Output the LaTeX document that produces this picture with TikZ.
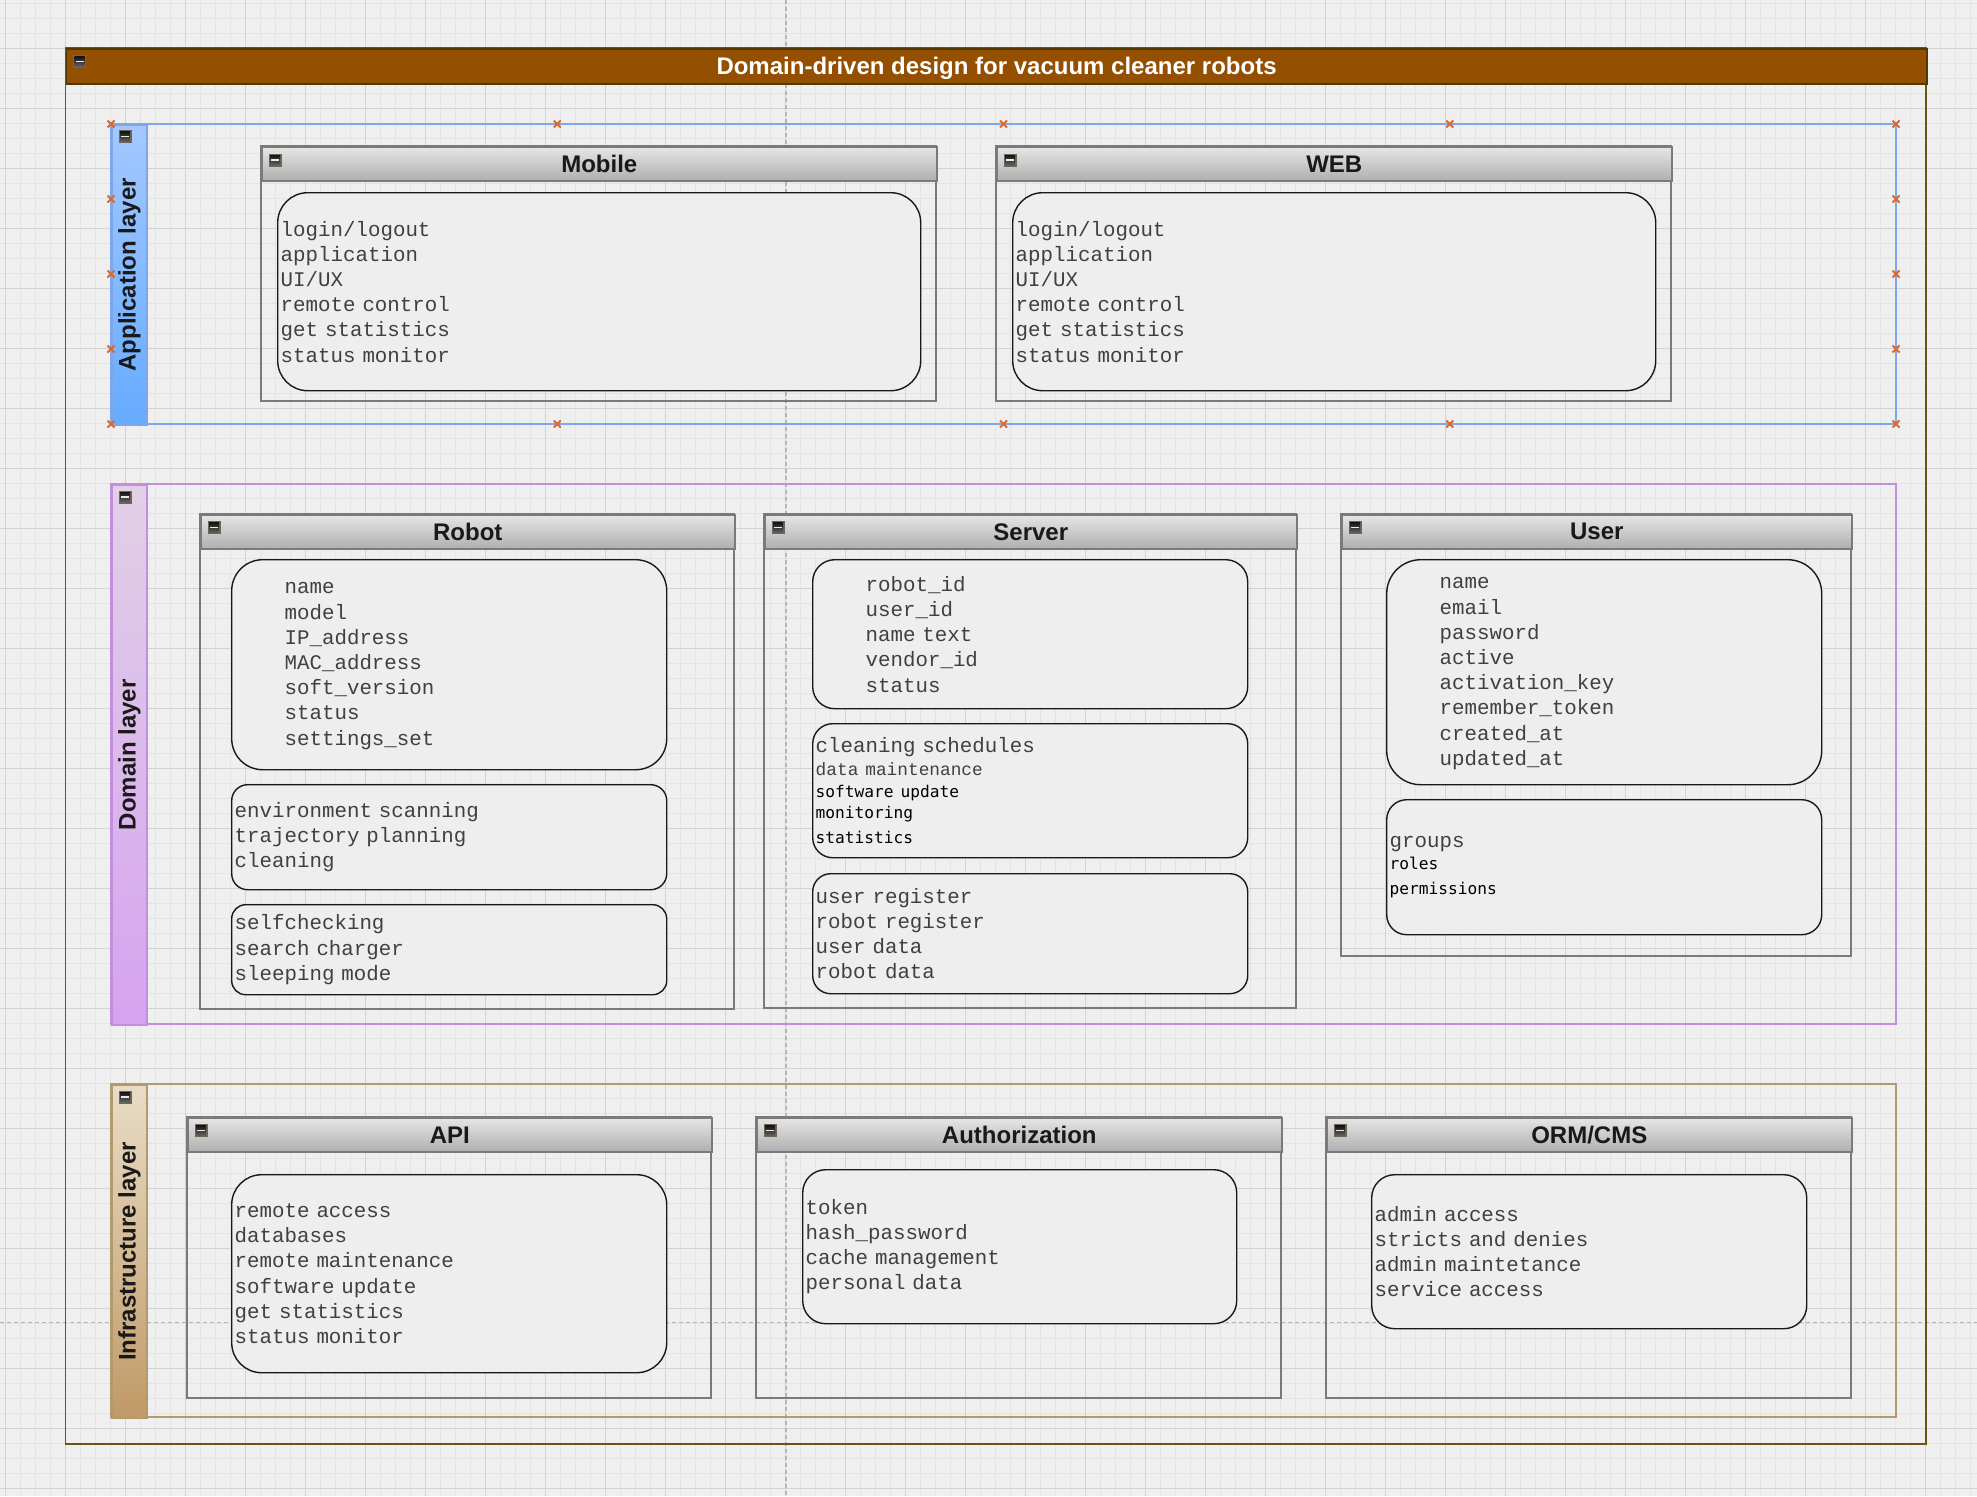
\documentclass[tikz,border=0pt]{standalone}
\usepackage{fontspec}
\setmainfont{Liberation Sans}
\setmonofont{Liberation Mono}
\newfontfamily\smonofont{DejaVu Sans Mono}

\definecolor{bgcol}{HTML}{EFEFEF}
\definecolor{gridminor}{HTML}{E4E4E4}
\definecolor{gridmajor}{HTML}{D3D3D3}
\definecolor{guidecol}{HTML}{B5B5B5}
\definecolor{titlefill}{HTML}{954F00}
\definecolor{titleedge}{HTML}{4F3A05}
\definecolor{frameedge}{HTML}{6A5412}
\definecolor{appedge}{HTML}{7EA6EC}
\definecolor{apptop}{HTML}{A3C8FF}
\definecolor{appbot}{HTML}{66ABFF}
\definecolor{domedge}{HTML}{C28FDC}
\definecolor{domtop}{HTML}{E2D0E6}
\definecolor{dombot}{HTML}{D5A3F0}
\definecolor{infedge}{HTML}{B39A6E}
\definecolor{inftop}{HTML}{E9DCC6}
\definecolor{infbot}{HTML}{C09A66}
\definecolor{boxedge}{HTML}{7A7A7A}
\definecolor{headtop}{HTML}{E6E6E6}
\definecolor{headbot}{HTML}{AFAFAF}
\definecolor{innerfill}{HTML}{EEEEEE}
\definecolor{markcol}{HTML}{D9692E}
\definecolor{btnedge}{HTML}{6F6656}

\newcommand{\cour}{\fontsize{20.8}{25.2}\selectfont\ttfamily}
\newcommand{\courS}{\fontsize{17.8}{23}\selectfont\ttfamily}
\newcommand{\smono}{\fontsize{16.2}{21.5}\selectfont\smonofont\color{black}}
\newcommand{\ind}{\phantom{0000}}

% small collapse button of the containers
\newcommand{\minusbtn}[2]{%
  \fill[btnedge] ({#1-6.5},{#2-6.5}) rectangle ({#1+6.5},{#2+6.5});
  \shade[top color=black!92, bottom color=black!62] ({#1-5},{#2-5}) rectangle ({#1+5},{#2+5});
  \fill[white!92!black] ({#1-4},{#2-0.8}) rectangle ({#1+4},{#2+0.8});}
% selection handle
\newcommand{\hmark}[2]{%
  \draw[selmark] ({#1-3.5},{#2-3.5}) -- ({#1+3.5},{#2+3.5}) ({#1-3.5},{#2+3.5}) -- ({#1+3.5},{#2-3.5});}

\tikzset{
  gridthin/.style={draw=gridminor, line width=1pt},
  gridthick/.style={draw=gridmajor, line width=1.2pt},
  guideline/.style={draw=guidecol, line width=1.2pt, dash pattern=on 4pt off 3pt},
  mainframe/.style={draw=frameedge, line width=1.8pt},
  titlebar/.style={draw=titleedge, line width=1.6pt, fill=titlefill, anchor=north west, inner sep=0pt,
    text=white, text height=17.2pt, text depth=0pt, font=\fontsize{24}{28}\selectfont\bfseries},
  sidebar/.style={line width=1.6pt, minimum width=35pt, anchor=north west, inner sep=0pt},
  layerlabel/.style={rotate=90, font=\fontsize{24}{28}\selectfont\bfseries, text=black!90},
  boxframe/.style={draw=boxedge, line width=1.5pt},
  header/.style={draw=boxedge, line width=1.5pt, top color=headtop, bottom color=headbot,
    minimum height=34pt, inner sep=0pt, anchor=north west,
    font=\fontsize{24}{28}\selectfont\bfseries, text=black!90},
  itembox/.style={draw=black!90, line width=1.4pt, fill=innerfill, inner xsep=3pt, inner ysep=0pt,
    anchor=north west, align=left, font=\cour, text=black!75},
  selmark/.style={draw=markcol, line width=2pt},
}

\begin{document}
\begin{tikzpicture}[x=1pt,y=-1pt]
\useasboundingbox (0,0) rectangle (1977,1496);
\fill[bgcol] (0,0) rectangle (1977,1496);
%background grid
\foreach \k in {0,...,131} \draw[gridthin] ({5.3+15*\k},0) -- ({5.3+15*\k},1496);
\foreach \k in {0,...,99} \draw[gridthin] (0,{3.3+15*\k}) -- (1977,{3.3+15*\k});
\foreach \k in {0,...,32} \draw[gridthick] ({5.3+60*\k},0) -- ({5.3+60*\k},1496);
\foreach \k in {0,...,24} \draw[gridthick] (0,{48.3+60*\k}) -- (1977,{48.3+60*\k});
\draw[guideline] (786,0) -- (786,1496);
\draw[guideline] (0,1322.5) -- (1977,1322.5);

% main container
\draw[mainframe] (65.5,48) rectangle (1926,1444);
\node[titlebar, minimum width=1860.5pt, minimum height=35pt] (titleBar) at (65.5,48) {Domain-driven design for vacuum cleaner robots};

% layers
\draw[draw=appedge, line width=1.6pt] (111,124) rectangle (1896,424);
\node[sidebar, draw=appedge, top color=apptop, bottom color=appbot, minimum height=300pt] (appSide) at (111,124) {};
\node[layerlabel] (appLabel) at (appSide.center) {Application layer};

\draw[draw=domedge, line width=1.6pt] (111,484) rectangle (1896,1024);
\node[sidebar, draw=domedge, top color=domtop, bottom color=dombot, minimum height=540pt] (domSide) at (111,484) {};
\node[layerlabel] (domLabel) at (domSide.center) {Domain layer};

\draw[draw=infedge, line width=1.6pt] (111,1084) rectangle (1896,1417);
\node[sidebar, draw=infedge, top color=inftop, bottom color=infbot, minimum height=333pt] (infSide) at (111,1084) {};
\node[layerlabel] (infLabel) at (infSide.center) {Infrastructure layer};

% application layer
\draw[boxframe] (261,146) rectangle (936,401);
\node[header, minimum width=675pt] (mobileHead) at (261,146) {Mobile};
\node[itembox, minimum width=643pt, minimum height=198pt, text width=637pt, rounded corners=30pt] (mobileBody) at (277,192)
  {login/logout\\ application\\ UI/UX\\ remote control\\ get statistics\\ status monitor};

\draw[boxframe] (996,146) rectangle (1671,401);
\node[header, minimum width=675pt] (webHead) at (996,146) {WEB};
\node[itembox, minimum width=643pt, minimum height=198pt, text width=637pt, rounded corners=30pt] (webBody) at (1012,192)
  {login/logout\\ application\\ UI/UX\\ remote control\\ get statistics\\ status monitor};

% domain layer
\draw[boxframe] (200,514) rectangle (734,1009);
\node[header, minimum width=534pt] (robotHead) at (200,514) {Robot};
\node[itembox, minimum width=435pt, minimum height=210pt, text width=429pt, rounded corners=31pt] (robotAttr) at (231,559)
  {\ind name\\ \ind model\\ \ind IP\_address\\ \ind MAC\_address\\ \ind soft\_version\\ \ind status\\ \ind settings\_set};
\node[itembox, minimum width=435pt, minimum height=105pt, text width=429pt, rounded corners=16pt] (robotMove) at (231,784)
  {environment scanning\\ trajectory planning\\ cleaning};
\node[itembox, minimum width=435pt, minimum height=90pt, text width=429pt, rounded corners=14pt] (robotSelf) at (231,904)
  {selfchecking\\ search charger\\ sleeping mode};

\draw[boxframe] (764,514) rectangle (1296,1008);
\node[header, minimum width=532pt] (serverHead) at (764,514) {Server};
\node[itembox, minimum width=435pt, minimum height=149pt, text width=429pt, rounded corners=22pt] (serverAttr) at (812,559)
  {\ind robot\_id\\ \ind user\_id\\ \ind name text\\ \ind vendor\_id\\ \ind status};
\node[itembox, minimum width=435pt, minimum height=134pt, text width=429pt, rounded corners=20pt] (serverTasks) at (812,723)
  {cleaning schedules\\ \courS data maintenance\\ \smono software update\\ monitoring\\ statistics};
\node[itembox, minimum width=435pt, minimum height=120pt, text width=429pt, rounded corners=18pt] (serverReg) at (812,873)
  {user register\\ robot register\\ user data\\ robot data};

\draw[boxframe] (1341,514) rectangle (1851,956);
\node[header, minimum width=510pt] (userHead) at (1341,514) {User};
\node[itembox, minimum width=435pt, minimum height=225pt, text width=429pt, rounded corners=34pt] (userAttr) at (1386,559)
  {\ind name\\ \ind email\\ \ind password\\ \ind active\\ \ind activation\_key\\ \ind remember\_token\\ \ind created\_at\\ \ind updated\_at};
\node[itembox, minimum width=435pt, minimum height=135pt, text width=429pt, rounded corners=20pt] (userRights) at (1386,799)
  {groups\\ \smono roles\\ permissions};

% infrastructure layer
\draw[boxframe] (187,1117) rectangle (711,1398);
\node[header, minimum width=524pt] (apiHead) at (187,1117) {API};
\node[itembox, minimum width=435pt, minimum height=198pt, text width=429pt, rounded corners=30pt] (apiBody) at (231,1174)
  {remote access\\ databases\\ remote maintenance\\ software update\\ get statistics\\ status monitor};

\draw[boxframe] (756,1117) rectangle (1281,1398);
\node[header, minimum width=525pt] (authHead) at (756,1117) {Authorization};
\node[itembox, minimum width=434pt, minimum height=154pt, text width=428pt, rounded corners=23pt] (authBody) at (802,1169)
  {token\\ hash\_password\\ cache management\\ personal data};

\draw[boxframe] (1326,1117) rectangle (1851,1398);
\node[header, minimum width=525pt] (ormHead) at (1326,1117) {ORM/CMS};
\node[itembox, minimum width=435pt, minimum height=154pt, text width=429pt, rounded corners=23pt] (ormBody) at (1371,1174)
  {admin access\\ stricts and denies\\ admin maintetance\\ service access};

% selection handles of the application layer
\foreach \mx in {111,557.25,1003.5,1449.75,1896} {\hmark{\mx}{124} \hmark{\mx}{424}}
\foreach \my in {199,274,349} {\hmark{111}{\my} \hmark{1896}{\my}}

% collapse buttons
\minusbtn{79.5}{61.5}
\minusbtn{125}{136.5}
\minusbtn{125}{497}
\minusbtn{125}{1097}
\minusbtn{275}{160}
\minusbtn{1010}{160}
\minusbtn{214}{527.5}
\minusbtn{778}{527.5}
\minusbtn{1355}{527.5}
\minusbtn{201}{1130.5}
\minusbtn{770}{1130.5}
\minusbtn{1340}{1130.5}
\end{tikzpicture}
\end{document}
